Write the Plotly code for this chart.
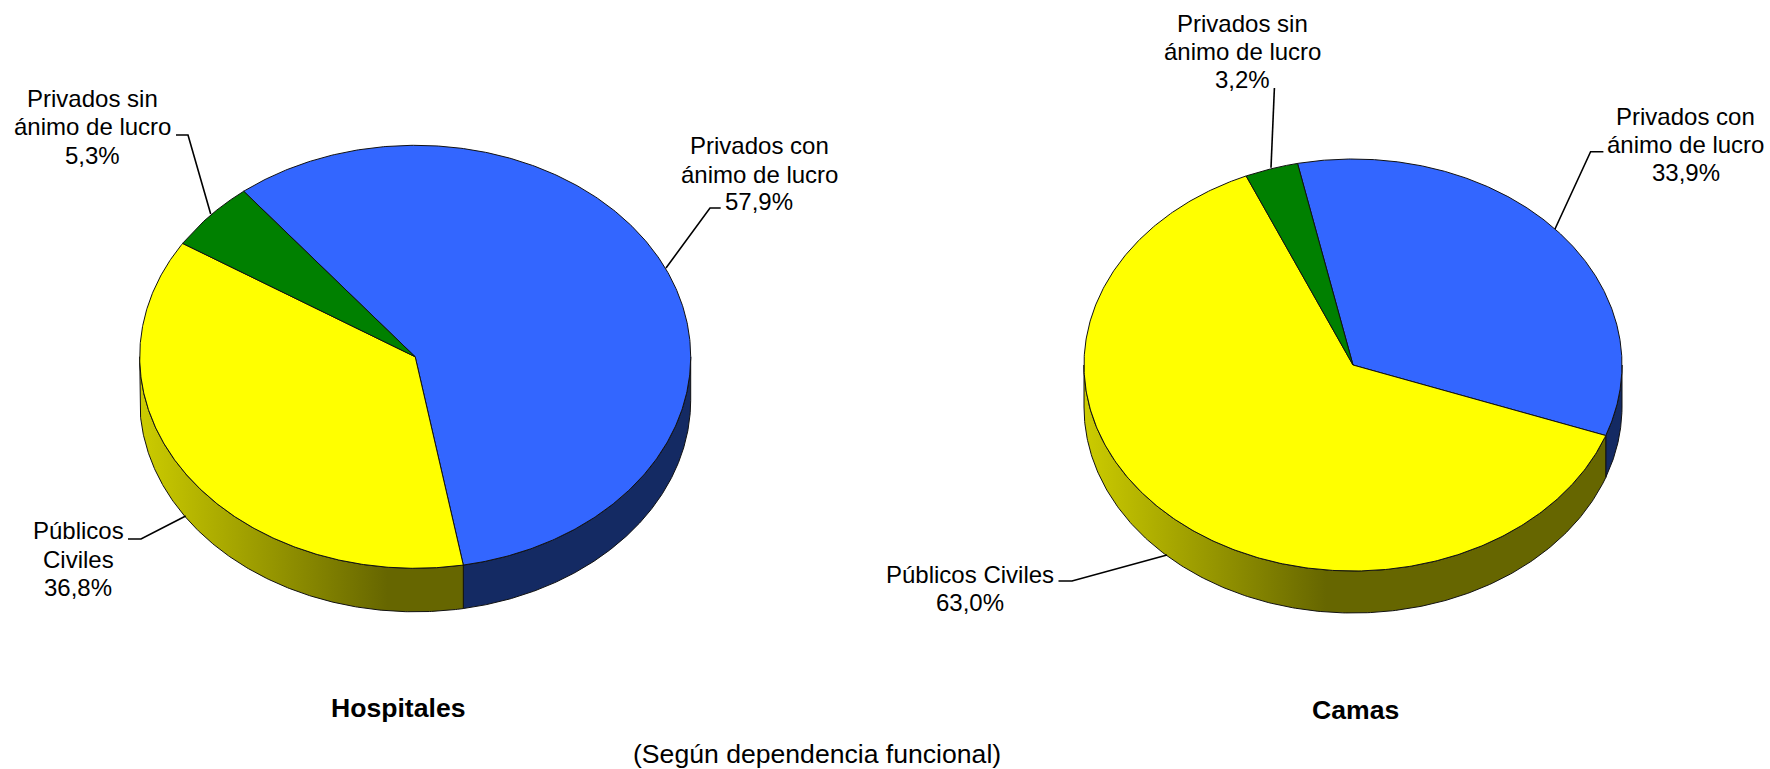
import numpy as np
import plotly.graph_objects as go

W, H = 1770, 769

# ---- data ----
slice_names = ["Privados con ánimo de lucro", "Públicos Civiles", "Privados sin ánimo de lucro"]
hospitales_values = [57.9, 36.8, 5.3]
camas_values = [33.9, 63.0, 3.2]
hospitales_title = "Hospitales"
camas_title = "Camas"
subtitle = "(Según dependencia funcional)"

# ---- style ----
top_colors = ["#3366ff", "#ffff00", "#008000"]
side_solid = ["#142a63", None, "#004000"]
grad_light, grad_dark = "#cccc00", "#666600"
FONT = "Liberation Sans, Arial, sans-serif"
LABEL_SIZE = 24
TITLE_SIZE = 26.6

pies = [
    dict(values=hospitales_values, cx=415.2, cy=356.8, rx=275.5, ry=211.5, depth=43.5, start=-38.5),
    dict(values=camas_values, cx=1353, cy=365, rx=269, ry=206, depth=42, start=-11.9),
]

label_layout = [
    [(759, [145.7, 174, 201.7], ["Privados con", "ánimo de lucro", "{v}"]),
     (78, [530.7, 559, 587], ["Públicos", "Civiles", "{v}"]),
     (92.7, [98, 126.5, 155.5], ["Privados sin", "ánimo de lucro", "{v}"])],
    [(1685.5, [116.7, 144.7, 172.7], ["Privados con", "ánimo de lucro", "{v}"]),
     (969.6, [574, 602], ["Públicos Civiles", "{v}"]),
     (1242, [23.3, 51.5, 79.5], ["Privados sin", "ánimo de lucro", "{v}"])],
]
leaders = [
    [[(720.7, 208), (710, 208), (666, 268)],
     [(128, 539), (141, 539), (185.7, 516)],
     [(176, 135), (188, 135), (210.7, 214)]],
    [[(1603.4, 151.7), (1590.6, 151.7), (1555, 229)],
     [(1058.5, 581), (1072, 581), (1167, 555)],
     [(1274.4, 88), (1271, 167.7)]],
]

fig = go.Figure()


def rim(p, a_deg, dy=0.0):
    a = np.radians(a_deg)
    return p["cx"] + p["rx"] * np.sin(a), p["cy"] + dy - p["ry"] * np.cos(a)


def fmt(v):
    return f"{v:.1f}".replace(".", ",") + "%"


for p_i, p in enumerate(pies):
    sweeps = np.array(p["values"]) * 3.6
    sweeps = sweeps * 360 / sweeps.sum()
    edges = p["start"] + np.concatenate([[0], np.cumsum(sweeps)])

    # sides (only the part facing the viewer, 90..270 degrees clockwise from top)
    for i in range(len(sweeps)):
        for k in (0, 360):
            a0 = max(edges[i] + k, 90)
            a1 = min(edges[i + 1] + k, 270)
            if a1 <= a0:
                continue
            t = np.linspace(a0, a1, 240)
            x0, y0 = rim(p, t)
            x1, y1 = rim(p, t[::-1], p["depth"])
            xs = np.concatenate([x0, x1, x0[:1]])
            ys = np.concatenate([y0, y1, y0[:1]])
            kw = {}
            if side_solid[i] is None:
                left = p["cx"] - p["rx"]
                kw["fillgradient"] = dict(
                    type="horizontal",
                    colorscale=[[0, grad_light], [1, grad_dark]],
                    start=left,
                    stop=left + 0.45 * 2 * p["rx"],
                )
            else:
                kw["fillcolor"] = side_solid[i]
            fig.add_trace(go.Scatter(x=xs, y=ys, mode="lines", fill="toself",
                                     line=dict(color="#111111", width=1),
                                     hoverinfo="skip", showlegend=False, **kw))

    # top faces
    for i in range(len(sweeps)):
        t = np.linspace(edges[i], edges[i + 1], 400)
        xe, ye = rim(p, t)
        xs = np.concatenate([[p["cx"]], xe, [p["cx"]]])
        ys = np.concatenate([[p["cy"]], ye, [p["cy"]]])
        fig.add_trace(go.Scatter(x=xs, y=ys, mode="lines", fill="toself",
                                 fillcolor=top_colors[i],
                                 line=dict(color="#111111", width=1),
                                 hoverinfo="skip", showlegend=False))

    # leader lines
    for pts in leaders[p_i]:
        fig.add_trace(go.Scatter(x=[q[0] for q in pts], y=[q[1] for q in pts],
                                 mode="lines", line=dict(color="#000000", width=1.6),
                                 hoverinfo="skip", showlegend=False))

    # labels
    for i, (lx, lys, lines) in enumerate(label_layout[p_i]):
        for ly, line in zip(lys, lines):
            fig.add_annotation(x=lx, y=ly, text=line.format(v=fmt(p["values"][i])),
                               showarrow=False, xanchor="center", yanchor="middle",
                               font=dict(family=FONT, size=LABEL_SIZE, color="#000000"))

fig.add_annotation(x=398, y=708, text=f"<b>{hospitales_title}</b>", showarrow=False,
                   font=dict(family=FONT, size=TITLE_SIZE, color="#000000"))
fig.add_annotation(x=1355, y=710, text=f"<b>{camas_title}</b>", showarrow=False,
                   font=dict(family=FONT, size=TITLE_SIZE, color="#000000"))
fig.add_annotation(x=817, y=754, text=subtitle, showarrow=False,
                   font=dict(family=FONT, size=TITLE_SIZE, color="#000000"))

fig.update_layout(
    width=W, height=H, margin=dict(l=0, r=0, t=0, b=0),
    paper_bgcolor="#ffffff", plot_bgcolor="#ffffff", showlegend=False,
    xaxis=dict(range=[0, W], visible=False, fixedrange=True),
    yaxis=dict(range=[H, 0], visible=False, fixedrange=True),
)
fig.write_html("out.html", config={"displayModeBar": False},
               post_script="document.body.style.margin='0';document.body.style.overflow='hidden';")
